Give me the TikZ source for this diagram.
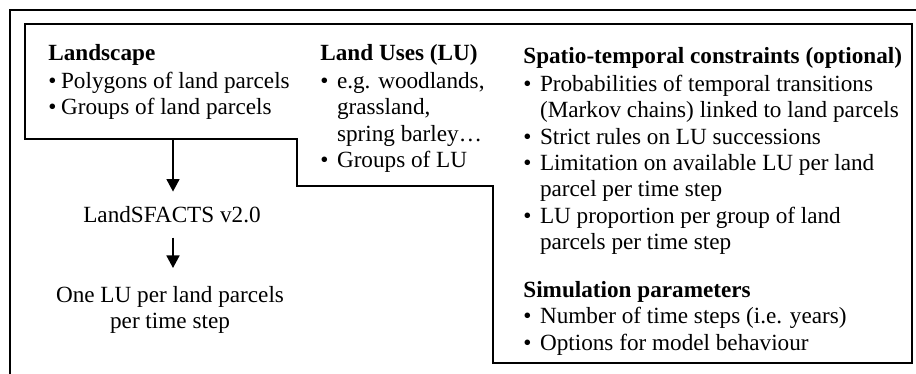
\documentclass[tikz,border=0pt]{standalone}
\usepackage{fontspec}
\setmainfont{Liberation Serif}
\usetikzlibrary{arrows.meta}
\newcommand{\itm}[1][0.72em]{\makebox[#1][l]{\textbullet}}
\newcommand{\cnt}{\hspace*{0.72em}}

\begin{document}
\begin{tikzpicture}[x=0.02cm,y=0.02cm,
  txt/.style={inner sep=0pt,font=\fontsize{13.2}{15}\selectfont},
  col/.style={txt,align=left,anchor=north west},
  flow/.style={-{Triangle[length=0.25cm,width=0.26cm]},line width=0.9pt}]
\path[use as bounding box] (0,0) rectangle (916,374);
\draw[line width=1.1pt] (10,0) -- (10,364) -- (916,364);
\draw[line width=0.9pt] (25,350) -- (912,350) -- (912,11) -- (493,11) -- (493,188)
  -- (297,188) -- (297,235) -- (25,235) -- cycle;
% inputs
\node[col] (land) at (48,330) {\textbf{Landscape}\\[1pt]
  \itm[0.55em]Polygons of land parcels\\
  \itm[0.55em]Groups of land parcels};
\node[col] (uses) at (320,330) {\textbf{Land Uses (LU)}\\[1pt]
  \itm e.g. woodlands,\\
  \cnt grassland,\\
  \cnt spring barley…\\
  \itm Groups of LU};
\node[col] (rules) at (523,327) {\textbf{Spatio-temporal constraints (optional)}\\[1pt]
  \itm Probabilities of temporal transitions\\
  \cnt (Markov chains) linked to land parcels\\
  \itm Strict rules on LU successions\\
  \itm Limitation on available LU per land\\
  \cnt parcel per time step\\
  \itm LU proportion per group of land\\
  \cnt parcels per time step};
\node[col] (sim) at (523,93) {\textbf{Simulation parameters}\\
  \itm Number of time steps (i.e. years)\\
  \itm Options for model behaviour};
% model and output
\coordinate (split) at (173,235);
\node[txt,anchor=base] (tool) at (172,151) {LandSFACTS v2.0};
\node[txt,align=center,anchor=north] (out) at (170,88) {One LU per land parcels\\per time step};
\draw[flow,shorten >=0.3cm] (split) -- (split |- tool.north);
\draw[flow,shorten <=0.28cm,shorten >=0.36cm] (split |- tool.south) -- (split |- out.north);
\end{tikzpicture}
\end{document}
